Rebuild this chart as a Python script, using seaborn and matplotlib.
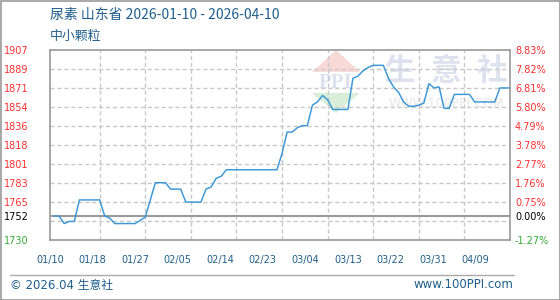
import numpy as np
import pandas as pd
import matplotlib
matplotlib.use("Agg")
import matplotlib.pyplot as plt
import seaborn as sns
from matplotlib.patches import Polygon, Rectangle
from matplotlib.lines import Line2D

# ---------------- data ----------------
title = "尿素 山东省 2026-01-10 - 2026-04-10"
subtitle = "中小颗粒"
dates = pd.date_range("2026-01-10", "2026-04-10", freq="D")
prices = [1752, 1752, 1745, 1747, 1747, 1767, 1767, 1767, 1767, 1767,
          1752, 1750, 1745, 1745, 1745, 1745, 1745, 1748, 1751, 1767,
          1783, 1783, 1783, 1777, 1777, 1777, 1765, 1765, 1765, 1765,
          1777, 1779, 1787, 1789, 1795, 1795, 1795, 1795, 1795, 1795,
          1795, 1795, 1795, 1795, 1795, 1810, 1830, 1830, 1834, 1836,
          1836, 1855, 1858, 1864, 1860, 1851, 1851, 1851, 1851, 1880,
          1882, 1887, 1890, 1892, 1892, 1892, 1880, 1872, 1867, 1858,
          1854, 1854, 1855, 1857, 1875, 1871, 1872, 1852, 1852, 1865,
          1865, 1865, 1865, 1858, 1858, 1858, 1858, 1858, 1871, 1871,
          1871]
base_price = 1752
pct_low, pct_high = -1.27, 8.83
left_labels = ["1730", "", "1765", "1783", "1801", "1818", "1836", "1854", "1871", "1889", "1907"]
right_labels = ["-1.27%", "", "0.75%", "1.76%", "2.77%", "3.78%", "4.79%", "5.80%", "6.81%", "7.82%", "8.83%"]
x_labels = ["01/10", "01/18", "01/27", "02/05", "02/14", "02/23", "03/04", "03/13", "03/22", "03/31", "04/09"]
footer_left = "© 2026.04 生意社"
footer_right = "www.100PPI.com"

# ---------------- style ----------------
sns.set_style("white")
plt.rcParams["font.family"] = ["DejaVu Sans", "Noto Sans CJK SC"]

BLUE_TXT = "#1f5f8c"
LINE_C = "#3a97d6"
GRID_C = "#c8c8c8"
RED = "#ff3030"
GREEN = "#33aa33"

W, H = 560, 300
fig = plt.figure(figsize=(W / 100, H / 100), dpi=100)
ax_l, ax_r, ax_t, ax_b = 50, 510, 49.5, 240
ax = fig.add_axes([ax_l / W, 1 - ax_b / H, (ax_r - ax_l) / W, (ax_b - ax_t) / H])

df = pd.DataFrame({"day": np.arange(len(prices)), "price": prices, "date": dates})

ylo = base_price * (1 + pct_low / 100)
yhi = base_price * (1 + pct_high / 100)
grid_vals = np.linspace(ylo, yhi, 11)
ndays = len(prices) - 1

# watermark
wm_c = "#dde2ee"
ax.add_patch(Polygon([[0.5696, 0.882], [0.674, 0.882], [0.6217, 0.997]], closed=True,
                     transform=ax.transAxes, facecolor="#f7d9d6", edgecolor="none", zorder=0))
ax.add_patch(Polygon([[0.5696, 0.772], [0.674, 0.772], [0.6217, 0.667]], closed=True,
                     transform=ax.transAxes, facecolor="#d9eed8", edgecolor="none", zorder=0))
ax.text(0.6217, 0.826, "PPI", transform=ax.transAxes, ha="center", va="center",
        fontsize=15, fontweight="bold", color=wm_c, family="Liberation Serif", zorder=0.5)
for cx, ch in zip([0.759, 0.861, 0.961], "生意社"):
    ax.text(cx, 0.885, ch, transform=ax.transAxes, ha="center", va="center",
            fontsize=22, fontweight="bold", color=wm_c, family="Noto Sans CJK SC", zorder=0)
ax.text(0.861, 0.715, "WWW.100PPI.COM", transform=ax.transAxes, ha="center", va="center",
        fontsize=9, color="#e6e6e6", zorder=0)

# grid
for g in grid_vals[1:-1]:
    ax.axhline(g, color=GRID_C, lw=1, ls=(0, (3, 2)), zorder=1)
for xv in np.linspace(0, ndays, 11)[1:-1]:
    ax.axvline(xv, color=GRID_C, lw=1, ls=(0, (3, 2)), zorder=1)
ax.axhline(base_price, color="#9a9a9a", lw=1.5, zorder=2)

sns.lineplot(data=df, x="day", y="price", ax=ax, color=LINE_C, lw=1.05, zorder=3)

ax.set_xlim(0, ndays)
ax.set_ylim(ylo, yhi)
ax.set_xlabel("")
ax.set_ylabel("")
for s in ax.spines.values():
    s.set_color("#999999")
    s.set_linewidth(1.2)

# y ticks left
yt = list(grid_vals) + [base_price]
ylab = left_labels + [str(base_price)]
ax.set_yticks(yt)
ax.set_yticklabels(ylab, fontsize=7)
ax.tick_params(axis="y", length=0, pad=33)
for t in ax.get_yticklabels():
    t.set_horizontalalignment("left")
for t, v in zip(ax.get_yticklabels(), yt):
    if abs(v - base_price) < 0.01:
        t.set_color("black")
    elif v < base_price:
        t.set_color(GREEN)
    else:
        t.set_color(RED)

# right axis
ax2 = ax.twinx()
ax2.set_ylim(ylo, yhi)
ax2.set_yticks(yt)
ax2.set_yticklabels(right_labels + ["0.00%"], fontsize=7)
ax2.tick_params(axis="y", length=0, pad=3.6)
for t, v in zip(ax2.get_yticklabels(), yt):
    if abs(v - base_price) < 0.01:
        t.set_color("black")
    elif v < base_price:
        t.set_color(GREEN)
    else:
        t.set_color(RED)
for s in ax2.spines.values():
    s.set_visible(False)
ax2.grid(False)

# x ticks
xpos = [-0.8 + 8.4 * i for i in range(len(x_labels))]
ax.set_xticks(xpos)
ax.set_xticklabels(x_labels, fontsize=7, color=BLUE_TXT)
ax.tick_params(axis="x", length=0, pad=11)
ax.grid(False)

# titles
fig.text(50 / W, 1 - 15 / H, title, fontsize=10, color=BLUE_TXT, va="center", ha="left",
         family=["Noto Sans CJK SC", "DejaVu Sans"])
fig.text(50 / W, 1 - 36 / H, subtitle, fontsize=9.3, color=BLUE_TXT, va="center", ha="left",
         family=["Noto Sans CJK SC", "DejaVu Sans"])

# footer
fig.add_artist(Line2D([10 / W, 514 / W], [1 - 275 / H] * 2, color="#aaaaaa", lw=1))
fig.text(10 / W, 1 - 285 / H, footer_left, fontsize=8.5, color=BLUE_TXT, va="center", ha="left")
fig.text(513 / W, 1 - 285 / H, footer_right, fontsize=8.5, color=BLUE_TXT, va="center", ha="right")
fig.add_artist(Rectangle((0.5 / W, 0.5 / H), 1 - 1 / W, 1 - 1 / H, transform=fig.transFigure,
                         fill=False, edgecolor="#999999", lw=1.2))

fig.savefig("out.png", dpi=100)
